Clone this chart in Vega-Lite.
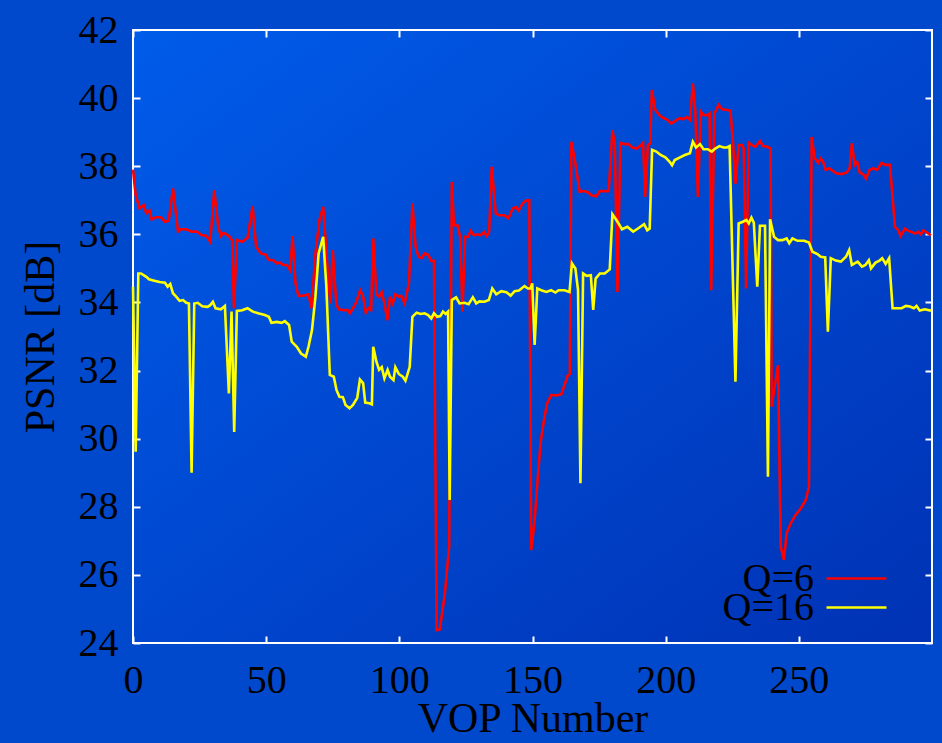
{
  "$schema": "https://vega.github.io/schema/vega-lite/v6.json",
  "width": 799,
  "height": 613,
  "autosize": {"type": "none"},
  "padding": {"left": 133, "top": 30, "right": 10, "bottom": 100},
  "background": "#0048cc",
  "config": {
    "view": {"stroke": "white", "strokeWidth": 2, "fill": {"gradient": "linear", "x1": 0, "y1": 0, "x2": 1, "y2": 1, "stops": [{"offset": 0, "color": "#005cea"}, {"offset": 1, "color": "#0032b4"}]}},
    "font": "Liberation Serif",
    "axis": {"domain": false, "grid": false, "tickColor": "white", "tickWidth": 2, "tickSize": -7, "labelFont": "Liberation Serif", "labelFontSize": 40, "labelColor": "black", "titleFont": "Liberation Serif", "titleFontSize": 42, "titleFontWeight": "normal", "titleColor": "black"},
    "legend": {"labelFont": "Liberation Serif", "labelFontSize": 40, "labelColor": "black", "title": null, "symbolType": "stroke", "symbolSize": 3600, "symbolStrokeWidth": 2.5, "labelAlign": "right", "labelOffset": -74, "padding": 0}
  },
  "datasets": {
    "psnr": [
{"x":0,"y":37.9,"s":"Q=6"},{"x":1,"y":37.15,"s":"Q=6"},{"x":2.5,"y":36.76,"s":"Q=6"},{"x":4,"y":36.86,"s":"Q=6"},{"x":5,"y":36.62,"s":"Q=6"},{"x":6.2,"y":36.7,"s":"Q=6"},{"x":7,"y":36.44,"s":"Q=6"},{"x":8.6,"y":36.5,"s":"Q=6"},{"x":10.5,"y":36.5,"s":"Q=6"},{"x":12,"y":36.37,"s":"Q=6"},{"x":13.4,"y":36.4,"s":"Q=6"},{"x":15,"y":37.35,"s":"Q=6"},{"x":16.9,"y":36.08,"s":"Q=6"},{"x":18,"y":36.15,"s":"Q=6"},{"x":20,"y":36.15,"s":"Q=6"},{"x":22,"y":36.08,"s":"Q=6"},{"x":24,"y":36.08,"s":"Q=6"},{"x":25.7,"y":35.98,"s":"Q=6"},{"x":27.6,"y":35.95,"s":"Q=6"},{"x":29,"y":35.78,"s":"Q=6"},{"x":30.5,"y":37.3,"s":"Q=6"},{"x":32,"y":36.22,"s":"Q=6"},{"x":33,"y":35.95,"s":"Q=6"},{"x":34,"y":36.05,"s":"Q=6"},{"x":36,"y":35.95,"s":"Q=6"},{"x":37.2,"y":35.83,"s":"Q=6"},{"x":37.9,"y":33.83,"s":"Q=6"},{"x":39,"y":35.83,"s":"Q=6"},{"x":41,"y":35.78,"s":"Q=6"},{"x":43,"y":35.9,"s":"Q=6"},{"x":44.9,"y":36.83,"s":"Q=6"},{"x":46.2,"y":35.64,"s":"Q=6"},{"x":48,"y":35.44,"s":"Q=6"},{"x":50,"y":35.4,"s":"Q=6"},{"x":50.8,"y":35.25,"s":"Q=6"},{"x":52.7,"y":35.24,"s":"Q=6"},{"x":54,"y":35.15,"s":"Q=6"},{"x":55.2,"y":35.17,"s":"Q=6"},{"x":56.5,"y":35.1,"s":"Q=6"},{"x":57.8,"y":35.1,"s":"Q=6"},{"x":59,"y":34.95,"s":"Q=6"},{"x":59.9,"y":35.95,"s":"Q=6"},{"x":61,"y":34.56,"s":"Q=6"},{"x":62.1,"y":34.19,"s":"Q=6"},{"x":64,"y":34.2,"s":"Q=6"},{"x":65.9,"y":34.24,"s":"Q=6"},{"x":67,"y":33.83,"s":"Q=6"},{"x":68.5,"y":35.44,"s":"Q=6"},{"x":70,"y":36.42,"s":"Q=6"},{"x":71.4,"y":36.81,"s":"Q=6"},{"x":73,"y":35.05,"s":"Q=6"},{"x":74.1,"y":33.97,"s":"Q=6"},{"x":75,"y":35.54,"s":"Q=6"},{"x":76.3,"y":33.97,"s":"Q=6"},{"x":77.2,"y":33.8,"s":"Q=6"},{"x":79.2,"y":33.77,"s":"Q=6"},{"x":80.5,"y":33.78,"s":"Q=6"},{"x":81.4,"y":33.68,"s":"Q=6"},{"x":82.6,"y":33.83,"s":"Q=6"},{"x":83.9,"y":34.02,"s":"Q=6"},{"x":85.3,"y":34.36,"s":"Q=6"},{"x":86.4,"y":34.17,"s":"Q=6"},{"x":87.4,"y":33.7,"s":"Q=6"},{"x":88.4,"y":33.83,"s":"Q=6"},{"x":89.4,"y":33.77,"s":"Q=6"},{"x":90.2,"y":35.88,"s":"Q=6"},{"x":91.4,"y":34.24,"s":"Q=6"},{"x":92.4,"y":34.17,"s":"Q=6"},{"x":93.4,"y":34.3,"s":"Q=6"},{"x":94.4,"y":33.97,"s":"Q=6"},{"x":95.5,"y":33.48,"s":"Q=6"},{"x":96.5,"y":34.17,"s":"Q=6"},{"x":97.5,"y":33.97,"s":"Q=6"},{"x":98.5,"y":34.24,"s":"Q=6"},{"x":99.8,"y":34.17,"s":"Q=6"},{"x":100.7,"y":34.2,"s":"Q=6"},{"x":102,"y":33.97,"s":"Q=6"},{"x":103.6,"y":34.56,"s":"Q=6"},{"x":104.9,"y":36.91,"s":"Q=6"},{"x":106.1,"y":35.64,"s":"Q=6"},{"x":107.2,"y":35.34,"s":"Q=6"},{"x":108.3,"y":35.3,"s":"Q=6"},{"x":109.5,"y":35.44,"s":"Q=6"},{"x":110.8,"y":35.4,"s":"Q=6"},{"x":112,"y":35.22,"s":"Q=6"},{"x":113,"y":35.22,"s":"Q=6"},{"x":114,"y":24.38,"s":"Q=6"},{"x":115.2,"y":24.4,"s":"Q=6"},{"x":117.1,"y":25.46,"s":"Q=6"},{"x":118.7,"y":26.83,"s":"Q=6"},{"x":119.7,"y":37.54,"s":"Q=6"},{"x":120.5,"y":36.27,"s":"Q=6"},{"x":121.8,"y":36.27,"s":"Q=6"},{"x":122.8,"y":35.93,"s":"Q=6"},{"x":123.7,"y":33.73,"s":"Q=6"},{"x":124.7,"y":35.93,"s":"Q=6"},{"x":125.8,"y":35.93,"s":"Q=6"},{"x":126.8,"y":36.1,"s":"Q=6"},{"x":128,"y":35.97,"s":"Q=6"},{"x":129.3,"y":36.0,"s":"Q=6"},{"x":130.5,"y":35.97,"s":"Q=6"},{"x":131.8,"y":36.07,"s":"Q=6"},{"x":132.8,"y":35.95,"s":"Q=6"},{"x":133.7,"y":36.07,"s":"Q=6"},{"x":134.7,"y":37.98,"s":"Q=6"},{"x":136.2,"y":36.61,"s":"Q=6"},{"x":137.5,"y":36.56,"s":"Q=6"},{"x":139.4,"y":36.56,"s":"Q=6"},{"x":141,"y":36.47,"s":"Q=6"},{"x":142.5,"y":36.76,"s":"Q=6"},{"x":143.8,"y":36.8,"s":"Q=6"},{"x":144.8,"y":36.7,"s":"Q=6"},{"x":146.3,"y":36.91,"s":"Q=6"},{"x":147.6,"y":36.99,"s":"Q=6"},{"x":148.8,"y":37.0,"s":"Q=6"},{"x":149.5,"y":26.73,"s":"Q=6"},{"x":150.7,"y":27.51,"s":"Q=6"},{"x":152,"y":28.88,"s":"Q=6"},{"x":153,"y":29.86,"s":"Q=6"},{"x":154.3,"y":30.55,"s":"Q=6"},{"x":155.5,"y":31.04,"s":"Q=6"},{"x":157,"y":31.28,"s":"Q=6"},{"x":158.9,"y":31.27,"s":"Q=6"},{"x":160.8,"y":31.3,"s":"Q=6"},{"x":162,"y":31.57,"s":"Q=6"},{"x":163.3,"y":31.87,"s":"Q=6"},{"x":164,"y":31.9,"s":"Q=6"},{"x":164.6,"y":38.72,"s":"Q=6"},{"x":166.1,"y":38.08,"s":"Q=6"},{"x":167.7,"y":37.25,"s":"Q=6"},{"x":169.4,"y":37.27,"s":"Q=6"},{"x":170.9,"y":37.23,"s":"Q=6"},{"x":172.1,"y":37.15,"s":"Q=6"},{"x":174,"y":37.12,"s":"Q=6"},{"x":175.3,"y":37.27,"s":"Q=6"},{"x":177.1,"y":37.27,"s":"Q=6"},{"x":178.6,"y":37.27,"s":"Q=6"},{"x":180,"y":39.06,"s":"Q=6"},{"x":180.9,"y":38.67,"s":"Q=6"},{"x":181.9,"y":34.31,"s":"Q=6"},{"x":183,"y":38.69,"s":"Q=6"},{"x":184.5,"y":38.65,"s":"Q=6"},{"x":186,"y":38.65,"s":"Q=6"},{"x":187.5,"y":38.55,"s":"Q=6"},{"x":189.1,"y":38.52,"s":"Q=6"},{"x":190.8,"y":38.62,"s":"Q=6"},{"x":191.5,"y":38.69,"s":"Q=6"},{"x":192.3,"y":37.1,"s":"Q=6"},{"x":193.3,"y":38.62,"s":"Q=6"},{"x":194.2,"y":38.67,"s":"Q=6"},{"x":194.8,"y":40.24,"s":"Q=6"},{"x":196.1,"y":39.65,"s":"Q=6"},{"x":197.6,"y":39.5,"s":"Q=6"},{"x":198.8,"y":39.43,"s":"Q=6"},{"x":200.5,"y":39.37,"s":"Q=6"},{"x":202.1,"y":39.25,"s":"Q=6"},{"x":204.1,"y":39.36,"s":"Q=6"},{"x":205.4,"y":39.41,"s":"Q=6"},{"x":206.6,"y":39.38,"s":"Q=6"},{"x":207.9,"y":39.44,"s":"Q=6"},{"x":209.1,"y":39.36,"s":"Q=6"},{"x":210.2,"y":40.43,"s":"Q=6"},{"x":211.1,"y":39.65,"s":"Q=6"},{"x":212.1,"y":37.1,"s":"Q=6"},{"x":213.2,"y":39.6,"s":"Q=6"},{"x":214.2,"y":39.5,"s":"Q=6"},{"x":215.8,"y":39.5,"s":"Q=6"},{"x":216.5,"y":39.55,"s":"Q=6"},{"x":217.1,"y":34.36,"s":"Q=6"},{"x":218.3,"y":39.55,"s":"Q=6"},{"x":219.9,"y":39.8,"s":"Q=6"},{"x":221.2,"y":39.67,"s":"Q=6"},{"x":223.1,"y":39.65,"s":"Q=6"},{"x":224.3,"y":39.63,"s":"Q=6"},{"x":225.3,"y":38.67,"s":"Q=6"},{"x":226.2,"y":37.49,"s":"Q=6"},{"x":227.4,"y":38.62,"s":"Q=6"},{"x":228.7,"y":38.62,"s":"Q=6"},{"x":229.3,"y":38.52,"s":"Q=6"},{"x":230.2,"y":34.41,"s":"Q=6"},{"x":231.2,"y":38.69,"s":"Q=6"},{"x":232.4,"y":38.62,"s":"Q=6"},{"x":233.7,"y":38.57,"s":"Q=6"},{"x":235.4,"y":38.74,"s":"Q=6"},{"x":236.6,"y":38.59,"s":"Q=6"},{"x":238.1,"y":38.57,"s":"Q=6"},{"x":239.4,"y":38.52,"s":"Q=6"},{"x":239.8,"y":30.94,"s":"Q=6"},{"x":241.3,"y":31.72,"s":"Q=6"},{"x":242.2,"y":32.16,"s":"Q=6"},{"x":243.2,"y":26.83,"s":"Q=6"},{"x":244.4,"y":26.44,"s":"Q=6"},{"x":245.4,"y":27.22,"s":"Q=6"},{"x":246.9,"y":27.51,"s":"Q=6"},{"x":248.8,"y":27.76,"s":"Q=6"},{"x":250.7,"y":27.95,"s":"Q=6"},{"x":252.6,"y":28.2,"s":"Q=6"},{"x":253.8,"y":28.59,"s":"Q=6"},{"x":254.8,"y":38.86,"s":"Q=6"},{"x":256,"y":38.23,"s":"Q=6"},{"x":257.3,"y":38.1,"s":"Q=6"},{"x":258.2,"y":38.23,"s":"Q=6"},{"x":259.1,"y":38.13,"s":"Q=6"},{"x":260.1,"y":37.89,"s":"Q=6"},{"x":261.4,"y":37.94,"s":"Q=6"},{"x":262.6,"y":37.87,"s":"Q=6"},{"x":264.1,"y":37.79,"s":"Q=6"},{"x":266,"y":37.77,"s":"Q=6"},{"x":267.9,"y":37.81,"s":"Q=6"},{"x":269.1,"y":37.94,"s":"Q=6"},{"x":269.9,"y":38.67,"s":"Q=6"},{"x":271,"y":38.04,"s":"Q=6"},{"x":271.9,"y":38.13,"s":"Q=6"},{"x":272.9,"y":37.81,"s":"Q=6"},{"x":274.1,"y":37.77,"s":"Q=6"},{"x":275.2,"y":37.64,"s":"Q=6"},{"x":276.6,"y":37.89,"s":"Q=6"},{"x":277.9,"y":37.94,"s":"Q=6"},{"x":279.4,"y":37.89,"s":"Q=6"},{"x":281.1,"y":38.1,"s":"Q=6"},{"x":282.3,"y":38.04,"s":"Q=6"},{"x":284.2,"y":38.04,"s":"Q=6"},{"x":286.1,"y":36.22,"s":"Q=6"},{"x":287.4,"y":36.12,"s":"Q=6"},{"x":288.2,"y":35.95,"s":"Q=6"},{"x":289.9,"y":36.17,"s":"Q=6"},{"x":291.1,"y":36.1,"s":"Q=6"},{"x":292.4,"y":36.07,"s":"Q=6"},{"x":293.7,"y":36.02,"s":"Q=6"},{"x":294.9,"y":36.07,"s":"Q=6"},{"x":295.8,"y":36.0,"s":"Q=6"},{"x":296.8,"y":36.12,"s":"Q=6"},{"x":298.3,"y":36.04,"s":"Q=6"},{"x":299.6,"y":35.97,"s":"Q=6"},
{"x":0,"y":34.46,"s":"Q=16"},{"x":1,"y":29.62,"s":"Q=16"},{"x":2,"y":34.85,"s":"Q=16"},{"x":3,"y":34.85,"s":"Q=16"},{"x":5,"y":34.75,"s":"Q=16"},{"x":6,"y":34.68,"s":"Q=16"},{"x":8,"y":34.64,"s":"Q=16"},{"x":10,"y":34.6,"s":"Q=16"},{"x":12,"y":34.58,"s":"Q=16"},{"x":13,"y":34.46,"s":"Q=16"},{"x":14,"y":34.54,"s":"Q=16"},{"x":15,"y":34.27,"s":"Q=16"},{"x":16.2,"y":34.17,"s":"Q=16"},{"x":17.5,"y":34.05,"s":"Q=16"},{"x":18.8,"y":34.07,"s":"Q=16"},{"x":20,"y":33.99,"s":"Q=16"},{"x":21,"y":33.97,"s":"Q=16"},{"x":22,"y":29.0,"s":"Q=16"},{"x":23,"y":33.97,"s":"Q=16"},{"x":24.3,"y":33.99,"s":"Q=16"},{"x":26,"y":33.89,"s":"Q=16"},{"x":28,"y":33.87,"s":"Q=16"},{"x":29,"y":33.92,"s":"Q=16"},{"x":30,"y":34.02,"s":"Q=16"},{"x":31,"y":33.83,"s":"Q=16"},{"x":33,"y":33.8,"s":"Q=16"},{"x":34.5,"y":33.9,"s":"Q=16"},{"x":36,"y":31.33,"s":"Q=16"},{"x":37,"y":33.73,"s":"Q=16"},{"x":38,"y":30.2,"s":"Q=16"},{"x":39,"y":33.75,"s":"Q=16"},{"x":41,"y":33.77,"s":"Q=16"},{"x":43,"y":33.83,"s":"Q=16"},{"x":45,"y":33.73,"s":"Q=16"},{"x":47,"y":33.68,"s":"Q=16"},{"x":49.5,"y":33.63,"s":"Q=16"},{"x":51,"y":33.58,"s":"Q=16"},{"x":52,"y":33.4,"s":"Q=16"},{"x":54,"y":33.43,"s":"Q=16"},{"x":55.8,"y":33.4,"s":"Q=16"},{"x":57,"y":33.45,"s":"Q=16"},{"x":58.6,"y":33.34,"s":"Q=16"},{"x":59.6,"y":32.85,"s":"Q=16"},{"x":61.5,"y":32.7,"s":"Q=16"},{"x":63.1,"y":32.5,"s":"Q=16"},{"x":64.9,"y":32.41,"s":"Q=16"},{"x":65.9,"y":32.7,"s":"Q=16"},{"x":67.2,"y":33.19,"s":"Q=16"},{"x":68.5,"y":34.17,"s":"Q=16"},{"x":69.7,"y":35.44,"s":"Q=16"},{"x":71.4,"y":35.93,"s":"Q=16"},{"x":72.6,"y":34.46,"s":"Q=16"},{"x":73.9,"y":31.87,"s":"Q=16"},{"x":75.4,"y":31.82,"s":"Q=16"},{"x":76.4,"y":31.43,"s":"Q=16"},{"x":77.5,"y":31.23,"s":"Q=16"},{"x":78.8,"y":31.22,"s":"Q=16"},{"x":79.8,"y":30.99,"s":"Q=16"},{"x":81.3,"y":30.89,"s":"Q=16"},{"x":82.6,"y":30.99,"s":"Q=16"},{"x":84.2,"y":31.2,"s":"Q=16"},{"x":85.2,"y":31.74,"s":"Q=16"},{"x":86.4,"y":31.63,"s":"Q=16"},{"x":87.2,"y":31.06,"s":"Q=16"},{"x":88.7,"y":31.04,"s":"Q=16"},{"x":89.7,"y":31.01,"s":"Q=16"},{"x":90.2,"y":32.7,"s":"Q=16"},{"x":91.4,"y":32.26,"s":"Q=16"},{"x":92.4,"y":32.02,"s":"Q=16"},{"x":93.4,"y":32.1,"s":"Q=16"},{"x":94.4,"y":31.77,"s":"Q=16"},{"x":95.6,"y":32.02,"s":"Q=16"},{"x":96.5,"y":31.82,"s":"Q=16"},{"x":97.8,"y":31.72,"s":"Q=16"},{"x":98.5,"y":32.1,"s":"Q=16"},{"x":99.8,"y":31.9,"s":"Q=16"},{"x":101.3,"y":31.82,"s":"Q=16"},{"x":102.3,"y":31.7,"s":"Q=16"},{"x":103.9,"y":32.11,"s":"Q=16"},{"x":104.9,"y":33.58,"s":"Q=16"},{"x":106.5,"y":33.7,"s":"Q=16"},{"x":108,"y":33.66,"s":"Q=16"},{"x":109.5,"y":33.68,"s":"Q=16"},{"x":110.8,"y":33.63,"s":"Q=16"},{"x":112,"y":33.53,"s":"Q=16"},{"x":113,"y":33.68,"s":"Q=16"},{"x":114.2,"y":33.58,"s":"Q=16"},{"x":115.4,"y":33.6,"s":"Q=16"},{"x":116.4,"y":33.73,"s":"Q=16"},{"x":117.4,"y":33.66,"s":"Q=16"},{"x":118.3,"y":33.73,"s":"Q=16"},{"x":118.9,"y":28.2,"s":"Q=16"},{"x":119.7,"y":34.07,"s":"Q=16"},{"x":121.3,"y":34.15,"s":"Q=16"},{"x":122.6,"y":33.97,"s":"Q=16"},{"x":124.5,"y":33.99,"s":"Q=16"},{"x":126,"y":33.95,"s":"Q=16"},{"x":127.6,"y":34.15,"s":"Q=16"},{"x":128.9,"y":33.97,"s":"Q=16"},{"x":130.1,"y":34.03,"s":"Q=16"},{"x":132,"y":34.02,"s":"Q=16"},{"x":133.6,"y":34.07,"s":"Q=16"},{"x":134.9,"y":34.41,"s":"Q=16"},{"x":136.4,"y":34.24,"s":"Q=16"},{"x":138.3,"y":34.33,"s":"Q=16"},{"x":140.2,"y":34.3,"s":"Q=16"},{"x":141.8,"y":34.2,"s":"Q=16"},{"x":143.3,"y":34.33,"s":"Q=16"},{"x":144.9,"y":34.35,"s":"Q=16"},{"x":147,"y":34.48,"s":"Q=16"},{"x":148.3,"y":34.41,"s":"Q=16"},{"x":149.3,"y":34.41,"s":"Q=16"},{"x":149.9,"y":34.56,"s":"Q=16"},{"x":150.8,"y":32.75,"s":"Q=16"},{"x":151.8,"y":34.41,"s":"Q=16"},{"x":153.3,"y":34.36,"s":"Q=16"},{"x":155.2,"y":34.31,"s":"Q=16"},{"x":157,"y":34.36,"s":"Q=16"},{"x":158.6,"y":34.29,"s":"Q=16"},{"x":159.8,"y":34.36,"s":"Q=16"},{"x":162,"y":34.36,"s":"Q=16"},{"x":163.9,"y":34.31,"s":"Q=16"},{"x":164.8,"y":35.15,"s":"Q=16"},{"x":166.1,"y":35.0,"s":"Q=16"},{"x":167.1,"y":34.36,"s":"Q=16"},{"x":168,"y":28.69,"s":"Q=16"},{"x":169,"y":34.85,"s":"Q=16"},{"x":170.3,"y":34.78,"s":"Q=16"},{"x":171.9,"y":34.8,"s":"Q=16"},{"x":172.8,"y":33.78,"s":"Q=16"},{"x":173.7,"y":34.7,"s":"Q=16"},{"x":175.3,"y":34.85,"s":"Q=16"},{"x":177.1,"y":34.85,"s":"Q=16"},{"x":179,"y":34.97,"s":"Q=16"},{"x":180,"y":36.59,"s":"Q=16"},{"x":181.5,"y":36.42,"s":"Q=16"},{"x":183.6,"y":36.15,"s":"Q=16"},{"x":185.6,"y":36.22,"s":"Q=16"},{"x":187.8,"y":36.08,"s":"Q=16"},{"x":189.6,"y":36.17,"s":"Q=16"},{"x":191.9,"y":36.3,"s":"Q=16"},{"x":193.1,"y":36.12,"s":"Q=16"},{"x":194,"y":36.17,"s":"Q=16"},{"x":194.9,"y":38.48,"s":"Q=16"},{"x":196.5,"y":38.43,"s":"Q=16"},{"x":198.1,"y":38.33,"s":"Q=16"},{"x":199.9,"y":38.26,"s":"Q=16"},{"x":201.5,"y":38.13,"s":"Q=16"},{"x":202.4,"y":38.03,"s":"Q=16"},{"x":203.4,"y":38.18,"s":"Q=16"},{"x":205.4,"y":38.26,"s":"Q=16"},{"x":207.2,"y":38.33,"s":"Q=16"},{"x":209.1,"y":38.38,"s":"Q=16"},{"x":210.2,"y":38.72,"s":"Q=16"},{"x":211.4,"y":38.55,"s":"Q=16"},{"x":212.9,"y":38.65,"s":"Q=16"},{"x":214.2,"y":38.5,"s":"Q=16"},{"x":215.8,"y":38.5,"s":"Q=16"},{"x":217.3,"y":38.43,"s":"Q=16"},{"x":218.6,"y":38.52,"s":"Q=16"},{"x":220.2,"y":38.59,"s":"Q=16"},{"x":221.7,"y":38.55,"s":"Q=16"},{"x":223,"y":38.55,"s":"Q=16"},{"x":224,"y":38.59,"s":"Q=16"},{"x":226.2,"y":31.67,"s":"Q=16"},{"x":227.4,"y":36.32,"s":"Q=16"},{"x":229,"y":36.37,"s":"Q=16"},{"x":230.3,"y":36.42,"s":"Q=16"},{"x":231.2,"y":36.32,"s":"Q=16"},{"x":232.2,"y":36.49,"s":"Q=16"},{"x":233.1,"y":36.34,"s":"Q=16"},{"x":234.4,"y":34.46,"s":"Q=16"},{"x":235.4,"y":36.25,"s":"Q=16"},{"x":237.3,"y":36.25,"s":"Q=16"},{"x":238.4,"y":28.88,"s":"Q=16"},{"x":239.2,"y":36.44,"s":"Q=16"},{"x":240.7,"y":35.93,"s":"Q=16"},{"x":242.2,"y":35.83,"s":"Q=16"},{"x":243.8,"y":35.83,"s":"Q=16"},{"x":245.4,"y":35.88,"s":"Q=16"},{"x":246.4,"y":35.74,"s":"Q=16"},{"x":247.6,"y":35.88,"s":"Q=16"},{"x":249.5,"y":35.81,"s":"Q=16"},{"x":252,"y":35.81,"s":"Q=16"},{"x":253.8,"y":35.76,"s":"Q=16"},{"x":255.1,"y":35.49,"s":"Q=16"},{"x":257,"y":35.42,"s":"Q=16"},{"x":258.2,"y":35.34,"s":"Q=16"},{"x":259.9,"y":35.32,"s":"Q=16"},{"x":260.9,"y":33.14,"s":"Q=16"},{"x":262,"y":35.3,"s":"Q=16"},{"x":263.9,"y":35.23,"s":"Q=16"},{"x":265.8,"y":35.2,"s":"Q=16"},{"x":267.7,"y":35.34,"s":"Q=16"},{"x":268.9,"y":35.54,"s":"Q=16"},{"x":269.9,"y":35.1,"s":"Q=16"},{"x":272.1,"y":35.2,"s":"Q=16"},{"x":273.7,"y":35.05,"s":"Q=16"},{"x":275,"y":35.1,"s":"Q=16"},{"x":276.3,"y":35.24,"s":"Q=16"},{"x":277.1,"y":35.0,"s":"Q=16"},{"x":278.8,"y":35.17,"s":"Q=16"},{"x":280.3,"y":35.23,"s":"Q=16"},{"x":281.3,"y":35.3,"s":"Q=16"},{"x":282.6,"y":35.13,"s":"Q=16"},{"x":283.9,"y":35.3,"s":"Q=16"},{"x":285.2,"y":33.83,"s":"Q=16"},{"x":286.9,"y":33.83,"s":"Q=16"},{"x":288.6,"y":33.83,"s":"Q=16"},{"x":290.2,"y":33.9,"s":"Q=16"},{"x":291.7,"y":33.88,"s":"Q=16"},{"x":293.2,"y":33.83,"s":"Q=16"},{"x":294.2,"y":33.9,"s":"Q=16"},{"x":295.4,"y":33.76,"s":"Q=16"},{"x":297.3,"y":33.8,"s":"Q=16"},{"x":299.6,"y":33.76,"s":"Q=16"}
    ]
  },
  "data": {"name": "psnr"},
  "layer": [
    {
      "transform": [{"filter": "datum.s === 'Q=6'"}],
      "mark": {"type": "line", "strokeWidth": 2.6, "interpolate": "linear"},
      "encoding": {
        "x": {"field": "x", "type": "quantitative", "scale": {"domain": [0, 300], "nice": false, "zero": false},
              "axis": {"orient": "bottom", "values": [0, 50, 100, 150, 200, 250], "title": "VOP Number", "labelPadding": 24, "titlePadding": -2, "labelFlush": false}},
        "y": {"field": "y", "type": "quantitative", "scale": {"domain": [24, 42], "nice": false, "zero": false},
              "axis": {"orient": "left", "values": [24, 26, 28, 30, 32, 34, 36, 38, 40, 42], "title": "PSNR [dB]", "labelPadding": 22, "titlePadding": 16}},
        "stroke": {"field": "s", "type": "nominal",
                  "scale": {"domain": ["Q=6"], "range": ["#ff0000"]},
                  "legend": {"orient": "none", "legendX": 692, "legendY": 517}},
        "order": {"field": "x", "type": "quantitative"}
      }
    },
    {
      "transform": [{"filter": "datum.s === 'Q=16'"}],
      "mark": {"type": "line", "strokeWidth": 2.6, "interpolate": "linear"},
      "encoding": {
        "x": {"field": "x", "type": "quantitative", "scale": {"domain": [0, 300], "nice": false, "zero": false}, "axis": null},
        "y": {"field": "y", "type": "quantitative", "scale": {"domain": [24, 42], "nice": false, "zero": false}, "axis": null},
        "color": {"field": "s", "type": "nominal",
                  "scale": {"domain": ["Q=16"], "range": ["#ffff00"]},
                  "legend": {"orient": "none", "legendX": 692, "legendY": 546}},
        "order": {"field": "x", "type": "quantitative"}
      }
    },
    {
      "mark": {"type": "line", "strokeOpacity": 0},
      "encoding": {
        "x": {"field": "x", "type": "quantitative", "scale": {"domain": [0, 300], "nice": false, "zero": false},
              "axis": {"orient": "top", "values": [0, 50, 100, 150, 200, 250], "labels": false, "title": null}},
        "y": {"field": "y", "type": "quantitative", "scale": {"domain": [24, 42], "nice": false, "zero": false},
              "axis": {"orient": "right", "values": [24, 26, 28, 30, 32, 34, 36, 38, 40, 42], "labels": false, "title": null}},
        "detail": {"field": "s", "type": "nominal"}
      }
    }
  ]
}
